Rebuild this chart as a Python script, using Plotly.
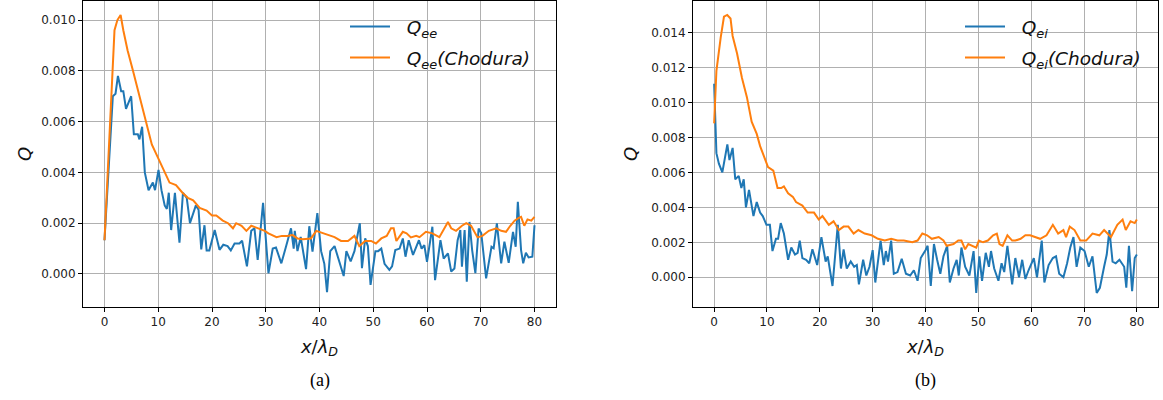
import plotly.graph_objects as go

# ---------------- data ----------------
# Panel (a)
x_ee = [0, 1.55, 2.05, 2.5, 3.1, 3.5, 4.0, 4.96, 5.46, 6.2, 6.5, 7.0, 7.5, 8.2, 9.0, 9.4,
        10.05, 10.6, 11.2, 11.6, 11.96, 12.4, 13.1, 13.95, 14.6, 15.3, 15.9, 17.0, 17.5,
        18.0, 18.6, 19.0, 19.5, 20.5, 21.4, 22.1, 22.9, 23.5, 24.2, 25.1, 25.6, 26.0, 26.5,
        27.3, 27.9, 28.5, 29.5, 30.5, 31.3, 31.9, 32.9, 33.8, 34.7, 35.2, 35.4, 35.9, 36.5,
        37.5, 38.1, 38.7, 39.6, 40.3, 40.9, 41.4, 42.0, 42.8, 43.6, 44.5, 45.0, 45.8, 46.5,
        47.5, 47.9, 48.5, 49.0, 49.5, 50.4, 50.9, 51.5, 52.1, 53.0, 53.5, 54.1, 54.9, 55.5,
        56.0, 56.6, 57.4, 58.0, 58.5, 59.0, 59.5, 60.0, 61.0, 61.5, 62.5, 63.1, 63.9, 64.5,
        65.1, 65.7, 66.2, 66.5, 67.0, 67.4, 67.9, 68.4, 69.0, 69.6, 70.1, 71.0, 72.0, 72.4,
        73.0, 73.8, 74.4, 75.2, 76.0, 76.5, 76.9, 77.5, 77.9, 78.4, 78.9, 79.6, 80.0]
q_ee = [0.00133, 0.0070, 0.0071, 0.0078, 0.0072, 0.0072, 0.0065, 0.0070, 0.0055, 0.0055,
        0.0053, 0.0058, 0.0040, 0.0033, 0.0036, 0.0033, 0.0041, 0.0033, 0.0027, 0.00256,
        0.0032, 0.00173, 0.0032, 0.00123, 0.0032, 0.0030, 0.0020, 0.0027, 0.00253, 0.00097,
        0.00192, 0.00092, 0.00092, 0.00173, 0.00095, 0.00115, 0.0011, 0.00093, 0.0012,
        0.0012, 0.00131, 0.0009, 0.0003, 0.0017, 0.0018, 0.00055, 0.0028, 0.00003, 0.0010,
        0.00104, 0.00042, 0.0011, 0.0018, 0.0010, 0.0017, 0.0009, 0.00146, 0.00019, 0.00188,
        0.00088, 0.0024, 0.0009, 0.0004, -0.00072, 0.0009, 0.0011, 0.0005, -0.00008, 0.0009,
        0.0005, 0.0009, 0.0020, 0.00023, 0.0014, 0.0011, -0.00043, 0.0009, 0.0009, 0.0010,
        0.0004, 0.00016, 0.0003, 0.00094, 0.0010, 0.0014, 0.00068, 0.00133, 0.00075, 0.00107,
        0.00133, 0.001, 0.00114, 0.00048, 0.00186, -0.00024, 0.00133, 0.00061, 0.00081,
        0.0001, 0.00022, 0.00133, 0.00173, 0.00029, 0.00173, -0.0003, 0.00205, 0.00094,
        0.00003, 0.00179, 0.0016, -0.00017, 0.00107, 0.00101, 0.00199, 0.00042, 0.00127,
        0.00044, 0.00166, 0.00107, 0.00284, 0.00094, 0.00042, 0.00084, 0.00065, 0.00068,
        0.00192]

x_ee_ch = [0, 1.0, 1.86, 2.4, 3.0, 3.5, 4.3, 5.3, 6.5, 7.75, 8.8, 9.9, 11.0, 12.1, 13.3,
           14.5, 15.5, 16.5, 17.7, 19.0, 20.0, 20.8, 22.0, 23.0, 23.9, 24.5, 25.5, 26.4,
           27.3, 28.5, 29.8, 30.5, 31.6, 32.0, 33.0, 34.0, 35.0, 35.9, 36.9, 38.4, 39.4,
           40.9, 42.0, 42.8, 44.0, 45.3, 46.5, 47.4, 48.5, 49.6, 50.5, 51.5, 52.5, 53.3,
           53.8, 54.3, 55.5, 56.2, 57.0, 58.0, 58.6, 59.8, 61.0, 62.3, 63.9, 64.5, 65.4,
           66.5, 67.3, 68.2, 69.4, 70.3, 71.5, 72.9, 73.8, 74.7, 75.5, 76.3, 77.0, 77.5,
           78.1, 78.7, 79.4, 80.0]
q_ee_ch = [0.00133, 0.0060, 0.0096, 0.0100, 0.0102, 0.0096, 0.0088, 0.0080, 0.0070, 0.0059,
           0.0051, 0.0046, 0.0041, 0.0036, 0.0035, 0.0032, 0.0030, 0.0029, 0.0026, 0.0025,
           0.0023, 0.0023, 0.0021, 0.0020, 0.0018, 0.0020, 0.0019, 0.0017, 0.0019, 0.0018,
           0.0017, 0.0016, 0.0015, 0.00145, 0.0015, 0.0015, 0.00153, 0.0014, 0.00137, 0.0014,
           0.0017, 0.0016, 0.0015, 0.00145, 0.0013, 0.0013, 0.0015, 0.0011, 0.0013, 0.0013,
           0.0012, 0.0014, 0.0015, 0.0018, 0.0018, 0.0013, 0.00166, 0.0016, 0.00144, 0.0015,
           0.00145, 0.00166, 0.0016, 0.00145, 0.00205, 0.0018, 0.0017, 0.0019, 0.0020, 0.0019,
           0.00144, 0.0015, 0.0017, 0.0018, 0.0017, 0.00166, 0.0019, 0.0021, 0.0022, 0.00225,
           0.0019, 0.00215, 0.0021, 0.00225]

# Panel (b)
x_ei = [0, 0.43, 0.9, 1.55, 2.5, 2.9, 3.5, 4.0, 4.65, 5.15, 5.6, 6.02, 6.6, 7.44, 8.06, 8.7,
        9.2, 9.9, 10.55, 11.04, 11.7, 12.1, 12.6, 13.2, 14.0, 14.6, 15.3, 15.8, 16.2, 16.7,
        17.4, 18.0, 18.6, 19.5, 20.3, 21.1, 21.5, 22.4, 23.4, 24.0, 24.5, 25.1, 25.85, 26.5,
        27.0, 27.4, 28.2, 28.8, 29.4, 30.0, 30.5, 31.5, 32.1, 32.5, 32.9, 33.5, 34.0, 34.7,
        35.5, 36.3, 37.1, 37.8, 38.5, 39.1, 40.0, 40.4, 41.0, 41.6, 42.2, 42.8, 43.4, 44.1,
        44.6, 45.3, 45.9, 46.3, 46.8, 47.5, 48.3, 48.7, 49.1, 49.6, 50.2, 50.7, 51.4, 52.0,
        52.4, 53.0, 53.8, 54.4, 54.9, 55.5, 56.0, 56.4, 57.0, 57.7, 58.3, 58.9, 59.5, 60.5,
        61.1, 62.0, 62.5, 63.3, 64.1, 64.7, 65.3, 66.1, 66.8, 67.4, 68.0, 68.6, 69.3, 70.1,
        70.9, 71.6, 72.4, 73.0, 73.8, 74.3, 74.8, 75.4, 76.0, 76.7, 77.6, 78.0, 78.5, 79.1,
        79.6, 80.0]
q_ei = [0.01107, 0.0071, 0.0065, 0.0060, 0.0076, 0.0067, 0.0074, 0.0056, 0.0058, 0.0051,
        0.0056, 0.0040, 0.0050, 0.0035, 0.0043, 0.0037, 0.0035, 0.0030, 0.0030, 0.0015,
        0.0022, 0.0022, 0.0031, 0.0025, 0.0010, 0.0017, 0.0013, 0.0014, 0.0021, 0.0011,
        0.0010, 0.0008, 0.0016, 0.0007, 0.0023, 0.0009, 0.0012, -0.0005, 0.0030, 0.0005,
        0.0016, 0.0005, 0.0009, 0.0006, 0.0007, -0.0004, 0.0010, 0.0001, 0.0006, 0.00155,
        -0.0003, 0.0021, 0.0007, 0.0015, 0.0009, 0.0021, 0.0002, 0.0003, 0.00106, 0.0002,
        0.0001, 0.0004, -0.0002, 0.0011, 0.00155, 0.0018, -0.0005, 0.0019, 0.001, 0.0002,
        0.0012, 0.0018, -0.0003, 0.0005, 0.001, 0.0001, 0.0017, 0.0006, 0.0001, 0.0008,
        0.0015, -0.0009, 0.0012, -0.0002, 0.0014, 0.0006, 0.0015, 0.0005, -0.0002, 0.0008,
        0.0003, 0.0018, 0.0007, -0.0004, 0.0011, 0.0000, 0.0010, -0.0001, 0.0004, 0.0011,
        0.0000, 0.0021, -0.0003, 0.0007, 0.0011, 0.0012, 0.0002, 0.0000, 0.0008, 0.0017,
        0.0023, 0.0006, 0.0017, 0.0015, 0.0006, 0.0012, -0.0009, -0.0006, 0.0006, 0.0013,
        0.0027, 0.0009, 0.0008, 0.001, 0.0006, -0.0006, 0.0018, -0.0008, 0.0011, 0.0013]

x_ei_ch = [0, 0.43, 1.24, 1.86, 2.48, 3.1, 3.5, 4.34, 5.27, 6.2, 7.1, 8.06, 8.7, 9.6, 10.2,
           11.2, 12.0, 12.7, 13.2, 14.0, 14.9, 15.5, 16.7, 17.7, 18.9, 19.8, 20.5, 21.7,
           22.6, 23.6, 24.5, 25.4, 26.4, 27.3, 28.5, 29.8, 31.0, 32.3, 33.5, 34.7, 35.9,
           37.5, 38.5, 39.4, 40.3, 41.2, 42.5, 43.4, 44.0, 45.3, 46.2, 46.8, 47.5, 48.1,
           48.9, 49.6, 50.1, 50.9, 51.8, 52.8, 53.5, 54.0, 54.6, 55.5, 56.4, 57.0, 58.0,
           58.9, 59.8, 60.8, 61.7, 62.9, 64.1, 65.1, 66.1, 66.6, 67.3, 68.2, 69.3, 70.4,
           71.6, 72.9, 73.8, 75.1, 76.3, 77.3, 77.9, 78.8, 79.6, 80.0]
q_ei_ch = [0.0088, 0.0118, 0.0137, 0.0149, 0.0150, 0.0148, 0.0138, 0.0128, 0.0114, 0.0103,
           0.0089, 0.0082, 0.0075, 0.0068, 0.0063, 0.0061, 0.0051, 0.0051, 0.0052, 0.0048,
           0.0046, 0.0043, 0.0041, 0.0037, 0.0037, 0.0033, 0.0035, 0.0030, 0.0032, 0.0027,
           0.0029, 0.0029, 0.0025, 0.0027, 0.0025, 0.0024, 0.0022, 0.0021, 0.0022, 0.0021,
           0.0021, 0.0020, 0.0021, 0.0025, 0.0024, 0.0022, 0.0023, 0.0021, 0.0018, 0.0019,
           0.0021, 0.0021, 0.0016, 0.0019, 0.0018, 0.0017, 0.0021, 0.0020, 0.0021, 0.0024,
           0.0025, 0.0019, 0.0018, 0.0024, 0.0021, 0.0021, 0.0022, 0.0024, 0.0024, 0.0023,
           0.0022, 0.0024, 0.0030, 0.0025, 0.0027, 0.0023, 0.0029, 0.0027, 0.0021, 0.0021,
           0.0025, 0.0024, 0.0027, 0.0023, 0.0030, 0.0033, 0.0027, 0.0032, 0.0031, 0.0033]

x_ticks = [0, 10, 20, 30, 40, 50, 60, 70, 80]
y_ticks_a = [0.000, 0.002, 0.004, 0.006, 0.008, 0.010]
y_ticks_b = [0.000, 0.002, 0.004, 0.006, 0.008, 0.010, 0.012, 0.014]

GAP = "&nbsp;&nbsp;"
names_a = [GAP + "<i>Q<sub>ee</sub></i>", GAP + "<i>Q<sub>ee</sub>(Chodura)</i>"]
names_b = [GAP + "<i>Q<sub>ei</sub></i>", GAP + "<i>Q<sub>ei</sub>(Chodura)</i>"]

BLUE = "#1f77b4"
ORANGE = "#ff7f0e"
W, H = 1163, 400

fig = go.Figure()
fig.add_trace(go.Scatter(x=x_ee, y=q_ee, mode="lines", name=names_a[0], legendgroup="a1",
                         line=dict(color=BLUE, width=2), xaxis="x", yaxis="y", legend="legend"))
fig.add_trace(go.Scatter(x=x_ee_ch, y=q_ee_ch, mode="lines", name=names_a[1], legendgroup="a2",
                         line=dict(color=ORANGE, width=2), xaxis="x", yaxis="y", legend="legend"))
fig.add_trace(go.Scatter(x=x_ei, y=q_ei, mode="lines", name=names_b[0], legendgroup="b1",
                         line=dict(color=BLUE, width=2), xaxis="x2", yaxis="y2", legend="legend2"))
fig.add_trace(go.Scatter(x=x_ei_ch, y=q_ei_ch, mode="lines", name=names_b[1], legendgroup="b2",
                         line=dict(color=ORANGE, width=2), xaxis="x2", yaxis="y2", legend="legend2"))

tick_font = dict(family="DejaVu Sans", size=12, color="#222")
title_font = dict(family="DejaVu Sans", size=18, color="#111")
legend_font = dict(family="DejaVu Sans", size=18.5, color="#111")

def xax(domain, anchor):
    return dict(domain=domain, anchor=anchor, range=[-4, 84], tickvals=x_ticks,
                automargin=False,
                showline=True, linecolor="black", linewidth=1, mirror=True,
                ticks="outside", ticklen=4, tickcolor="black", tickfont=tick_font,
                showgrid=True, gridcolor="#b0b0b0", gridwidth=0.9, zeroline=False,
                title=dict(text="<i>x</i>/<i>λ<sub>D</sub></i>", font=title_font, standoff=11))

def yax(domain, anchor, rng, ticks, standoff):
    return dict(domain=domain, anchor=anchor, range=rng, tickvals=ticks, tickformat=".3f",
                automargin=False,
                showline=True, linecolor="black", linewidth=1, mirror=True,
                ticks="outside", ticklen=4, tickcolor="black", tickfont=tick_font,
                showgrid=True, gridcolor="#b0b0b0", gridwidth=0.9, zeroline=False,
                title=dict(text="<i>Q</i>", font=title_font, standoff=standoff))

legend_common = dict(xanchor="left", yanchor="top", itemwidth=40, tracegroupgap=4,
                     bgcolor="rgba(0,0,0,0)", font=legend_font)

ydom = [(H - 307) / H, (H - 1) / H]
fig.update_layout(
    width=W, height=H, margin=dict(l=0, r=0, t=0, b=0, autoexpand=False),
    paper_bgcolor="white", plot_bgcolor="white",
    xaxis=xax([83 / W, 556 / W], "y"),
    yaxis=yax(ydom, "x", [-0.0013, 0.01075], y_ticks_a, 4),
    xaxis2=xax([693 / W, 1158 / W], "y2"),
    yaxis2=yax(ydom, "x2", [-0.0017, 0.0158], y_ticks_b, 8),
    legend=dict(x=345 / W, y=0.98, **legend_common),
    legend2=dict(x=960 / W, y=0.98, **legend_common),
    annotations=[
        dict(text="(a)", x=(83 + 556) / 2 / W, y=(H - 380) / H, xref="paper", yref="paper",
             yanchor="middle", xanchor="center", showarrow=False,
             font=dict(family="Liberation Serif", size=18, color="black")),
        dict(text="(b)", x=(693 + 1158) / 2 / W, y=(H - 380) / H, xref="paper", yref="paper",
             yanchor="middle", xanchor="center", showarrow=False,
             font=dict(family="Liberation Serif", size=18, color="black")),
    ],
)

fig.write_html("out.html", config={"displayModeBar": False},
               post_script="document.body.style.margin='0px';document.body.style.overflow='hidden';")
